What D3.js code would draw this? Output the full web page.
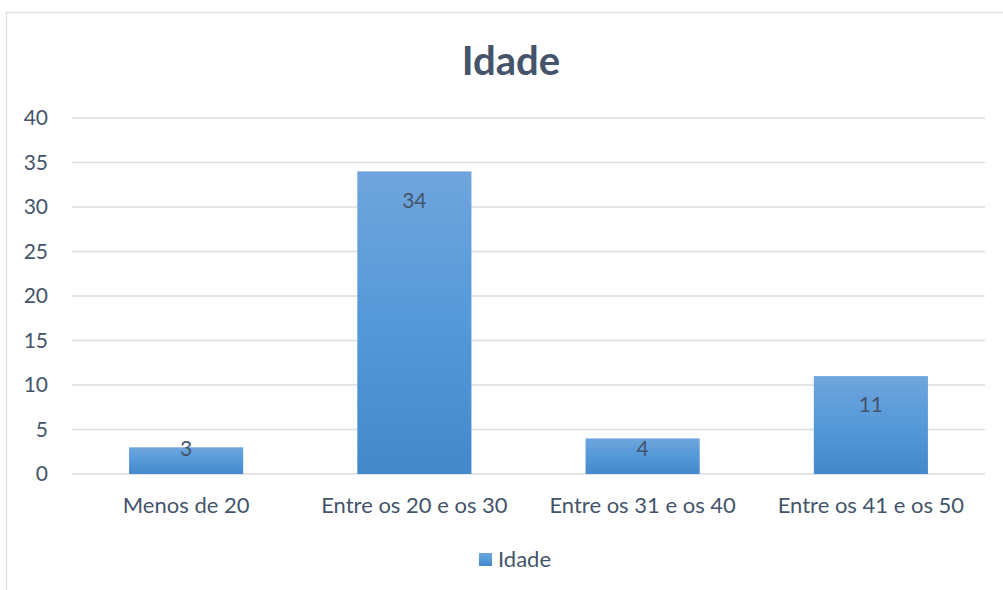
<!DOCTYPE html>
<html><head><meta charset="utf-8">
<script src="https://cdn.jsdelivr.net/npm/d3@7"></script>
<style>
html,body{margin:0;padding:0;background:#fff;}
svg{display:block;font-family:Lato, "Open Sans", sans-serif;}
</style></head>
<body>
<svg id="chart" width="1003" height="590"></svg>
<script>
const categories = ["Menos de 20", "Entre os 20 e os 30", "Entre os 31 e os 40", "Entre os 41 e os 50"];
const values = [3, 34, 4, 11];
const yTicks = [0, 5, 10, 15, 20, 25, 30, 35, 40];
const seriesName = "Idade";
const title = "Idade";

const svg = d3.select("#chart");
const textColor = "#44546a";

// outer border
svg.append("rect").attr("x", 6.5).attr("y", 12.5).attr("width", 1100).attr("height", 700)
  .attr("fill", "#fff").attr("stroke", "#dde1e6").attr("stroke-width", 1.5);

const defs = svg.append("defs");
const grad = defs.append("linearGradient").attr("id", "barGrad").attr("x1", 0).attr("y1", 0).attr("x2", 0).attr("y2", 1);
grad.append("stop").attr("offset", "0%").attr("stop-color", "#6fa5dc");
grad.append("stop").attr("offset", "50%").attr("stop-color", "#5599d9");
grad.append("stop").attr("offset", "100%").attr("stop-color", "#4488cb");

const x = d3.scaleBand().domain(categories).range([72, 985]).paddingInner(0.5).paddingOuter(0.25);
const y = d3.scaleLinear().domain([0, 40]).range([474, 118]);

// gridlines
svg.append("g").selectAll("line").data(yTicks).join("line")
  .attr("x1", 72).attr("x2", 985)
  .attr("y1", d => y(d)).attr("y2", d => y(d))
  .attr("stroke", "#dadde2").attr("stroke-width", 1.5);

// y axis labels
const yAxis = d3.axisLeft(y).tickValues(yTicks).tickSize(0).tickPadding(0);
const gy = svg.append("g").attr("transform", "translate(48,0)").call(yAxis);
gy.select(".domain").remove();
gy.selectAll("text").attr("fill", textColor).attr("font-size", 21).attr("font-family", "Lato, sans-serif");

// x axis labels
const xAxis = d3.axisBottom(x).tickSize(0).tickPadding(0);
const gx = svg.append("g").attr("transform", "translate(0,497)").call(xAxis);
gx.select(".domain").remove();
gx.selectAll("text").attr("fill", textColor).attr("font-size", 22).attr("font-family", "Lato, sans-serif");

// bars
svg.append("g").selectAll("rect").data(values).join("rect")
  .attr("x", (d, i) => x(categories[i]))
  .attr("y", d => y(d))
  .attr("width", x.bandwidth())
  .attr("height", d => y(0) - y(d))
  .attr("fill", "url(#barGrad)");

// data labels
svg.append("g").selectAll("text").data(values).join("text")
  .attr("x", (d, i) => x(categories[i]) + x.bandwidth() / 2)
  .attr("y", d => Math.min(y(d) + 29, y(0) - 25))
  .attr("dy", "0.35em")
  .attr("text-anchor", "middle")
  .attr("font-size", 21)
  .attr("fill", textColor)
  .text(d => d);

// title
svg.append("text").attr("x", 511).attr("y", 75).attr("text-anchor", "middle")
  .attr("font-size", 40).attr("font-weight", "bold").attr("fill", textColor)
  .text(title);

// legend
const lg = svg.append("g");
lg.append("rect").attr("x", 479).attr("y", 553).attr("width", 13).attr("height", 13).attr("fill", "url(#barGrad)");
lg.append("text").attr("x", 498).attr("y", 559.5).attr("dy", "0.35em").attr("font-size", 22).attr("fill", textColor).text(seriesName);
</script>
</body></html>
